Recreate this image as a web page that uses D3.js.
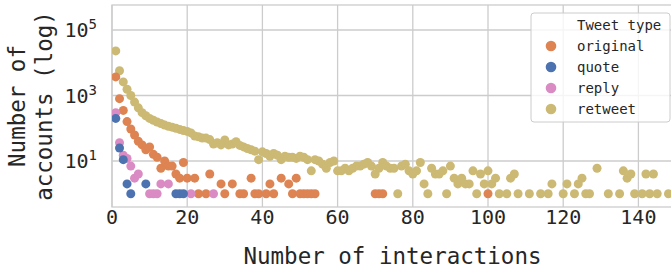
<!DOCTYPE html>
<html>
<head>
<meta charset="utf-8">
<script src="https://cdn.jsdelivr.net/npm/d3@7"></script>
<style>
  body { margin: 0; background: #fff; }
  svg text { font-family: "DejaVu Sans Mono", monospace; fill: #262626; }
</style>
</head>
<body>
<div id="chart"></div>
<script>
// [interactions, number of accounts]
const originalPoints = [
  [1,3700],[2,800],[3,350],[4,160],[5,95],[6,62],[7,40],[8,31],[9,22],[10,27],
  [11,16],[12,13],[13,6],[14,10],[15,7],[16,7],[17,4],[18,3],[19,9],[20,3],
  [22,3],[23,1],[25,1],[26,4],[29,2],[30,1],[32,2],[34,1],[35,1],[37,3],
  [38,1],[39,1],[41,1],[42,2],[43,1],[45,3],[47,2],[48,1],[49,3],[50,1],
  [51,1],[52,1],[53,1],[54,1],[70,1],[71,1],[72,1],[100,1]
];
const quotePoints = [
  [1,200],[2,25],[3,11],[4,2],[5,1],[9,2],[17,1],[18,1],[19,1]
];
const replyPoints = [
  [1,300],[2,36],[3,15],[4,12],[5,7],[6,3],[7,4],[10,1],[11,1],[12,1],
  [13,2],[15,2],[21,1],[27,1]
];
const retweetPoints = [
  [1,23000],[2,5700],[3,2600],[4,1550],[5,1000],[6,630],[7,420],[8,300],[9,240],[10,200],
  [11,175],[12,155],[13,140],[14,125],[15,115],[16,108],[17,100],[18,92],[19,85],[20,80],
  [21,72],[22,58],[23,55],[24,50],[25,50],[26,45],[27,33],[28,36],[29,31],[30,44],
  [31,31],[32,33],[33,39],[34,30],[35,27],[36,24],[37,22],[38,20],[39,11],[40,19],
  [41,17],[42,14],[43,17],[44,15],[45,11],[46,14],[47,13],[48,13],[49,12],[50,14],
  [51,13],[52,11],[53,5],[54,11],[55,10],[56,8],[57,6],[58,9],[59,10],[60,5],
  [61,5],[62,6],[63,5],[64,6],[65,7],[66,7],[67,8],[68,9],[69,7],[70,4],
  [71,6],[72,9],[73,7],[74,6],[75,6],[76,1],[77,7],[78,8],[79,5],[80,4],
  [81,5],[82,9],[83,2],[84,1],[85,6],[86,4],[87,4],[88,5],[89,1],[90,7],
  [91,3],[92,2],[93,3],[94,2],[95,2],[96,5],[97,1],[98,4],[99,2],[100,5],
  [101,2],[102,3],[103,1],[105,1],[106,3],[107,4],[108,1],[111,1],[114,1],[116,1],
  [117,2],[120,1],[121,2],[123,1],[124,2],[125,3],[126,1],[127,1],[129,6],[132,1],
  [135,1],[136,5],[137,3],[138,4],[139,1],[141,1],[142,4],[143,1],[144,4],[145,1],
  [148,1]
];

const seriesNames = ['original', 'quote', 'reply', 'retweet'];
const seriesColors = ['#dd8452', '#4c72b0', '#da8bc3', '#ccb974'];
const xTicks = [0, 20, 40, 60, 80, 100, 120, 140];
const yTickExps = [1, 3, 5];

let outerWidth = 671, outerHeight = 271;
let margin = {top: 5, left: 112, bottom: 64};

let svg = d3.select('#chart').append('svg')
    .attr('width', outerWidth)
    .attr('height', outerHeight);

// x runs 0..150, right side of the axes is cut off by the figure edge
let x = d3.scaleLinear().domain([0, 150]).range([margin.left, margin.left + 150 * 3.76]);
let y = d3.scaleLog().domain([0.394, 5.8e5]).range([outerHeight - margin.bottom, margin.top]);

let plotRight = x.range()[1];
let plotBottom = y.range()[0];

svg.append('clipPath').attr('id', 'clip')
  .append('rect')
    .attr('x', margin.left).attr('y', margin.top)
    .attr('width', plotRight - margin.left).attr('height', plotBottom - margin.top);

// grid
let grid = svg.append('g');
grid.selectAll('.vx').data(xTicks).enter().append('line')
    .attr('x1', d => x(d)).attr('x2', d => x(d))
    .attr('y1', margin.top).attr('y2', plotBottom)
    .attr('stroke', '#cccccc').attr('stroke-width', 1.3);
grid.selectAll('.hy').data(yTickExps).enter().append('line')
    .attr('x1', margin.left).attr('x2', plotRight)
    .attr('y1', d => y(Math.pow(10, d))).attr('y2', d => y(Math.pow(10, d)))
    .attr('stroke', '#cccccc').attr('stroke-width', 1.3);

// frame
svg.append('rect')
    .attr('x', margin.left).attr('y', margin.top)
    .attr('width', plotRight - margin.left).attr('height', plotBottom - margin.top)
    .attr('fill', 'none').attr('stroke', '#cccccc').attr('stroke-width', 1.3);

// points, retweet underneath
let allSeries = [originalPoints, quotePoints, replyPoints, retweetPoints];
let drawOrder = [3, 0, 2, 1];
let dots = svg.append('g').attr('clip-path', 'url(#clip)');
drawOrder.forEach(function(i) {
  dots.append('g').selectAll('circle')
    .data(allSeries[i]).enter().append('circle')
      .attr('cx', d => x(d[0]))
      .attr('cy', d => y(d[1]))
      .attr('r', 4.5)
      .attr('fill', seriesColors[i]);
});

// x axis labels
svg.append('g').selectAll('text').data(xTicks).enter().append('text')
    .attr('x', d => x(d))
    .attr('y', 224)
    .attr('text-anchor', 'middle')
    .style('font-size', '20px')
    .text(d => d);

// y axis labels 10^n
let ylab = svg.append('g').selectAll('text').data(yTickExps).enter().append('text')
    .attr('x', 97)
    .attr('y', d => y(Math.pow(10, d)) + 7)
    .attr('text-anchor', 'end')
    .style('font-size', '20px');
ylab.append('tspan').text('10');
ylab.append('tspan').attr('dy', -8).style('font-size', '14px').text(d => d);

// axis titles
svg.append('text')
    .attr('x', (margin.left + 671) / 2 + 1)
    .attr('y', 264)
    .attr('text-anchor', 'middle')
    .style('font-size', '22.5px')
    .text('Number of interactions');

let ytitle = svg.append('text')
    .attr('transform', `translate(25, ${(margin.top + plotBottom) / 2}) rotate(-90)`)
    .attr('text-anchor', 'middle')
    .style('font-size', '22.5px');
ytitle.append('tspan').attr('x', 0).attr('y', 0).text('Number of');
ytitle.append('tspan').attr('x', 0).attr('y', 27).text('accounts (log)');

// legend
let lg = svg.append('g').attr('transform', 'translate(531, 13)');
lg.append('rect')
    .attr('width', 139).attr('height', 109).attr('rx', 3)
    .attr('fill', 'white').attr('fill-opacity', 0.8)
    .attr('stroke', '#cccccc').attr('stroke-width', 1);
lg.append('text')
    .attr('x', 46).attr('y', 17)
    .style('font-size', '14px')
    .text('Tweet type');
seriesNames.forEach(function(name, i) {
  let row = lg.append('g').attr('transform', `translate(0, ${33 + i * 21})`);
  row.append('circle').attr('cx', 20).attr('cy', 0).attr('r', 5.3).attr('fill', seriesColors[i]);
  row.append('text').attr('x', 46).attr('y', 5).style('font-size', '14px').text(name);
});
</script>
</body>
</html>
